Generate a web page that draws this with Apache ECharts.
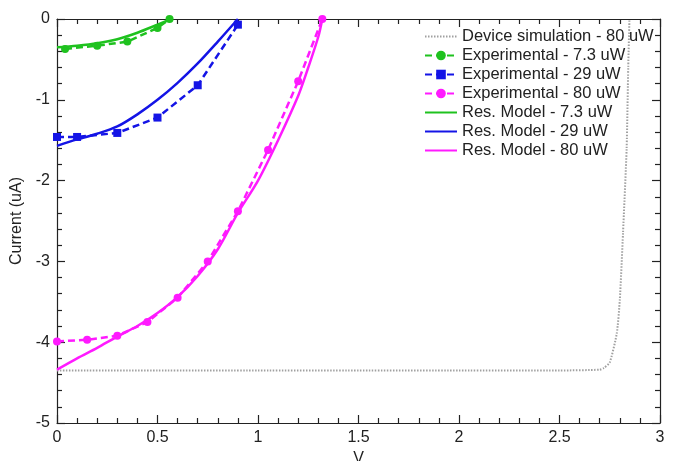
<!DOCTYPE html>
<html>
<head>
<meta charset="utf-8">
<script src="https://cdn.jsdelivr.net/npm/echarts@6/dist/echarts.min.js"></script>
<style>
  html, body { margin: 0; padding: 0; background: #fff; }
  #main { width: 678px; height: 461px; }
</style>
</head>
<body>
<div id="main"></div>
<script>
// device simulation (dotted grey)
var simData = [[0, -4.35], [0.5, -4.35], [1, -4.35], [1.5, -4.35], [2, -4.35], [2.5, -4.35], [2.7, -4.34],
    [2.72, -4.32], [2.75, -4.25], [2.785, -3.89], [2.80, -3.48], [2.816, -2.65], [2.834, -1.6], [2.842, -0.59], [2.848, 0]];

// experimental points (dashed + markers)
var exp73 = [[0.04, -0.37], [0.2, -0.33], [0.35, -0.28], [0.5, -0.11], [0.56, 0]];
var exp29 = [[0, -1.46], [0.1, -1.46], [0.3, -1.41], [0.5, -1.22], [0.7, -0.82], [0.9, -0.07]];
var exp80 = [[0, -3.99], [0.15, -3.97], [0.3, -3.92], [0.45, -3.75], [0.6, -3.45], [0.75, -3.0],
    [0.9, -2.38], [1.05, -1.62], [1.2, -0.77], [1.32, 0]];

// resistive model curves (solid)
var mod73 = [[0, -0.35], [0.1, -0.33], [0.2, -0.30], [0.3, -0.25], [0.4, -0.17], [0.5, -0.07], [0.57, 0]];
var mod29 = [[0, -1.57], [0.1, -1.49], [0.2, -1.42], [0.3, -1.33], [0.4, -1.18], [0.5, -1.0],
    [0.6, -0.79], [0.7, -0.55], [0.8, -0.28], [0.9, 0]];
var mod80 = [[0, -4.34], [0.1, -4.2], [0.2, -4.07], [0.3, -3.93], [0.4, -3.8], [0.5, -3.64], [0.6, -3.44],
    [0.7, -3.18], [0.8, -2.85], [0.9, -2.4], [1.0, -2.0], [1.1, -1.5], [1.2, -0.95], [1.25, -0.6], [1.3, -0.22], [1.32, 0]];

var names = ['Device simulation - 80 uW', 'Experimental - 7.3 uW', 'Experimental - 29 uW', 'Experimental - 80 uW',
    'Res. Model - 7.3 uW', 'Res. Model - 29 uW', 'Res. Model - 80 uW'];

var green = '#1fc21f';
var blue = '#1414e6';
var magenta = '#ff1aff';
var font = 'Liberation Sans';
var ink = '#222';

var myChart = echarts.init(document.getElementById('main'));

function frameAxis(extra) {
    var a = {
        type: 'value',
        axisLine: { show: true, onZero: false, lineStyle: { color: ink, width: 1.2 } },
        axisTick: { inside: true, length: 8, lineStyle: { color: ink, width: 1.2 } },
        minorTick: { show: true, splitNumber: 5, length: 5, lineStyle: { color: ink, width: 1.2 } },
        axisLabel: { show: false },
        splitLine: { show: false }
    };
    for (var k in extra) a[k] = extra[k];
    return a;
}

// legend entries: models and simulation show only the line, no marker
var legendData = names.map(function (n) {
    if (n.indexOf('Experimental') === 0) return { name: n };
    return { name: n, itemStyle: { opacity: 0 } };
});

var option = {
    animation: false,
    textStyle: { fontFamily: font },
    grid: { left: 57, right: 18, top: 19, bottom: 38, outerBoundsMode: 'none' },
    legend: {
        orient: 'vertical',
        left: 419,
        top: 23,
        itemWidth: 32,
        itemHeight: 12,
        itemGap: 2,
        textStyle: { fontFamily: font, fontSize: 16.5, lineHeight: 16, color: ink },
        data: legendData
    },
    xAxis: [
        frameAxis({
            min: 0, max: 3, interval: 0.5,
            name: 'V', nameLocation: 'middle', nameGap: 25,
            nameTextStyle: { fontSize: 16, color: ink, fontFamily: font },
            axisLabel: { fontSize: 16, color: ink, margin: 7, fontFamily: font }
        }),
        frameAxis({ min: 0, max: 3, interval: 0.5, position: 'top' })
    ],
    yAxis: [
        frameAxis({
            min: -5, max: 0, interval: 1,
            name: 'Current (uA)', nameLocation: 'middle', nameGap: 27,
            nameTextStyle: { fontSize: 16, color: ink, fontFamily: font },
            axisLabel: { fontSize: 16, color: ink, margin: 7, fontFamily: font }
        }),
        frameAxis({ min: -5, max: 0, interval: 1, position: 'right' })
    ],
    series: [
        {
            name: names[0],
            type: 'line',
            data: simData,
            symbol: 'none',
            smooth: 0.2,
            lineStyle: { color: '#a0a0a0', width: 2, type: [1.5, 1.5] },
            itemStyle: { color: '#a0a0a0' }
        },
        {
            name: names[1],
            type: 'line',
            data: exp73,
            symbol: 'circle',
            symbolSize: 8,
            lineStyle: { color: green, width: 2.5, type: [7, 4] },
            itemStyle: { color: green }
        },
        {
            name: names[2],
            type: 'line',
            data: exp29,
            symbol: 'rect',
            symbolSize: 8,
            lineStyle: { color: blue, width: 2.5, type: [7, 4] },
            itemStyle: { color: blue }
        },
        {
            name: names[3],
            type: 'line',
            data: exp80,
            symbol: 'circle',
            symbolSize: 8,
            lineStyle: { color: magenta, width: 2.5, type: [7, 4] },
            itemStyle: { color: magenta }
        },
        {
            name: names[4],
            type: 'line',
            data: mod73,
            symbol: 'none',
            smooth: 0.3,
            lineStyle: { color: green, width: 2.5 },
            itemStyle: { color: green }
        },
        {
            name: names[5],
            type: 'line',
            data: mod29,
            symbol: 'none',
            smooth: 0.3,
            lineStyle: { color: blue, width: 2.5 },
            itemStyle: { color: blue }
        },
        {
            name: names[6],
            type: 'line',
            data: mod80,
            symbol: 'none',
            smooth: 0.3,
            lineStyle: { color: magenta, width: 2.5 },
            itemStyle: { color: magenta }
        }
    ]
};

option && myChart.setOption(option);
</script>
</body>
</html>
